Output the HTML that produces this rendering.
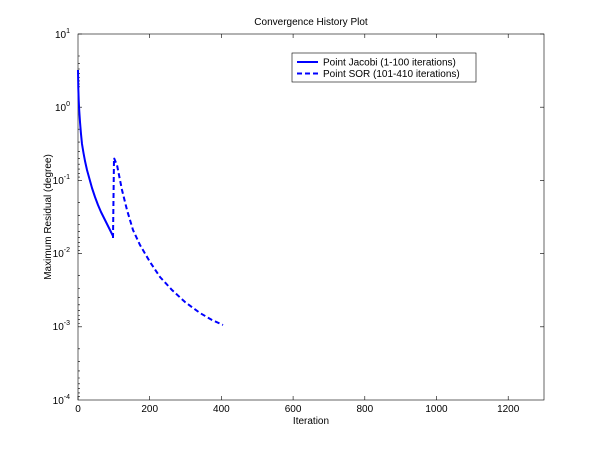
<!DOCTYPE html>
<html><head><style>body{margin:0;background:#fff}svg{display:block}</style></head><body>
<svg width="600" height="450" xmlns="http://www.w3.org/2000/svg" font-family="Liberation Sans, sans-serif" font-size="10">
<rect width="600" height="450" fill="#fff"/>
<g stroke="#000" stroke-width="0.6" fill="none">
<rect x="78" y="34" width="466" height="366"/>
<path d="M78,400v-4M149.7,400v-4M221.4,400v-4M293.1,400v-4M364.8,400v-4M436.5,400v-4M508.2,400v-4M149.7,34v4M221.4,34v4M293.1,34v4M364.8,34v4M436.5,34v4M508.2,34v4"/>
<path d="M78,34h4M78,107.2h4M78,180.4h4M78,253.6h4M78,326.8h4M544,34h-4M544,107.2h-4M544,180.4h-4M544,253.6h-4M544,326.8h-4"/>
<path d="
M78,56h2M78,63.3h2M78,69h2M78,73.6h2M78,77.5h2M78,80.9h2M78,84h2M78,86.8h2
M78,129.2h2M78,142.1h2M78,151.3h2M78,158.4h2M78,164.2h2M78,169.1h2M78,173.3h2M78,177.1h2
M78,202.4h2M78,215.3h2M78,224.5h2M78,231.6h2M78,237.4h2M78,242.3h2M78,246.5h2M78,250.3h2
M78,275.6h2M78,288.5h2M78,297.7h2M78,304.8h2M78,310.6h2M78,315.5h2M78,319.7h2M78,323.5h2
M78,348.8h2M78,361.7h2M78,370.9h2M78,378h2M78,383.8h2M78,388.7h2M78,392.9h2M78,396.7h2"/>
</g>
<g text-anchor="middle">
<text x="78" y="412">0</text><text x="149.7" y="412">200</text><text x="221.4" y="412">400</text><text x="293.1" y="412">600</text><text x="364.8" y="412">800</text><text x="436.5" y="412">1000</text><text x="508.2" y="412">1200</text>
<text x="311" y="424">Iteration</text>
<text x="311" y="25">Convergence History Plot</text>
</g>
<g text-anchor="end">
<text x="70" y="38">10<tspan font-size="7" dy="-5">1</tspan></text>
<text x="70" y="111">10<tspan font-size="7" dy="-5">0</tspan></text>
<text x="70" y="184">10<tspan font-size="7" dy="-5">-1</tspan></text>
<text x="70" y="257">10<tspan font-size="7" dy="-5">-2</tspan></text>
<text x="70" y="330">10<tspan font-size="7" dy="-5">-3</tspan></text>
<text x="70" y="404">10<tspan font-size="7" dy="-5">-4</tspan></text>
</g>
<text transform="translate(51,217) rotate(-90)" text-anchor="middle">Maximum Residual (degree)</text>
<polyline fill="none" stroke="#0000ff" stroke-width="2" stroke-linejoin="round" points="78,70 78.3,88 78.7,100 79.2,110 80,122 81,134 82,144 83.5,153 85,161 87,170 89.5,179 92,188 95,197 98,205 101,212 104.5,219 108,226 111,232 113,236"/>
<polyline fill="none" stroke="#0000ff" stroke-width="2" stroke-dasharray="5,3" points="113,238 114,158 117,165 122,190 127,210 133,230 140,245 150,262 160,277 172,290 185,302 200,313 212,320 223,325"/>
<rect x="292" y="53" width="184" height="29" fill="#fff" stroke="#000" stroke-width="0.6"/>
<line x1="297" y1="62" x2="318" y2="62" stroke="#0000ff" stroke-width="2"/>
<line x1="297" y1="73.5" x2="318" y2="73.5" stroke="#0000ff" stroke-width="2" stroke-dasharray="5,3"/>
<text x="323" y="65.5">Point Jacobi (1-100 iterations)</text>
<text x="323" y="77">Point SOR (101-410 iterations)</text>
</svg>
</body></html>
